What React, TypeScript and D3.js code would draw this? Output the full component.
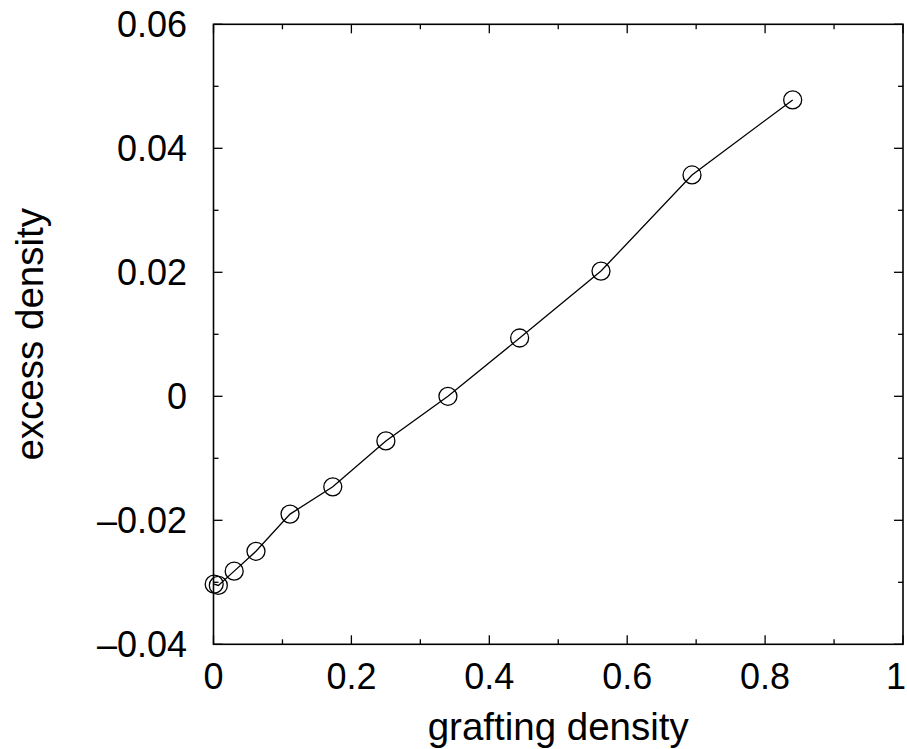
import React from "react";
import * as d3 from "d3";

const xValues = [0.001, 0.007, 0.03, 0.0616, 0.111, 0.173, 0.25, 0.34, 0.444, 0.562, 0.694, 0.84];
const yValues = [-0.0303, -0.0305, -0.0282, -0.025, -0.019, -0.0146, -0.0072, 0.0, 0.0094, 0.0202, 0.0357, 0.0478];
const xMajorTicks = [0, 0.2, 0.4, 0.6, 0.8, 1];
const xTickLabels = ["0", "0.2", "0.4", "0.6", "0.8", "1"];
const xMinorTicks = [0.1, 0.3, 0.5, 0.7, 0.9];
const yMajorTicks = [-0.04, -0.02, 0, 0.02, 0.04, 0.06];
const yTickLabels = ["\u20130.04", "\u20130.02", "0", "0.02", "0.04", "0.06"];
const yMinorTicks = [-0.03, -0.01, 0.01, 0.03, 0.05];
const xTitle = "grafting density";
const yTitle = "excess density";

const W = 907, H = 749;
const L = 213.5, R = 903, T = 24.3, B = 644.3;

export default function App() {
  const x = d3.scaleLinear().domain([0, 1]).range([L, R]);
  const y = d3.scaleLinear().domain([-0.04, 0.06]).range([B, T]);
  const pts = xValues.map((v, i) => [v, yValues[i]] as [number, number]);
  const line = d3.line<[number, number]>().x(d => x(d[0])).y(d => y(d[1]));
  const font = "'Liberation Sans', Arial, sans-serif";
  const major = 9, minor = 5;
  return (
    <svg width={W} height={H} style={{ position: "absolute", left: 0, top: 0, background: "#fff" }}>
      <rect x={L} y={T} width={R - L} height={B - T} fill="none" stroke="#000" strokeWidth={1.6} />
      {xMajorTicks.map((t, i) => (
        <g key={"xM" + i}>
          <line x1={x(t)} x2={x(t)} y1={B} y2={B - major} stroke="#000" strokeWidth={1.3} />
          <line x1={x(t)} x2={x(t)} y1={T} y2={T + major} stroke="#000" strokeWidth={1.3} />
          <text x={i === xMajorTicks.length - 1 ? W - 1 : x(t)} y={689} textAnchor={i === xMajorTicks.length - 1 ? "end" : "middle"} fontFamily={font} fontSize={36}>{xTickLabels[i]}</text>
        </g>
      ))}
      {xMinorTicks.map((t, i) => (
        <g key={"xm" + i}>
          <line x1={x(t)} x2={x(t)} y1={B} y2={B - minor} stroke="#000" strokeWidth={1.3} />
          <line x1={x(t)} x2={x(t)} y1={T} y2={T + minor} stroke="#000" strokeWidth={1.3} />
        </g>
      ))}
      {yMajorTicks.map((t, i) => (
        <g key={"yM" + i}>
          <line x1={L} x2={L + major} y1={y(t)} y2={y(t)} stroke="#000" strokeWidth={1.3} />
          <line x1={R} x2={R - major} y1={y(t)} y2={y(t)} stroke="#000" strokeWidth={1.3} />
          <text x={187} y={y(t)} dy="0.36em" textAnchor="end" fontFamily={font} fontSize={36}>{yTickLabels[i]}</text>
        </g>
      ))}
      {yMinorTicks.map((t, i) => (
        <g key={"ym" + i}>
          <line x1={L} x2={L + minor} y1={y(t)} y2={y(t)} stroke="#000" strokeWidth={1.3} />
          <line x1={R} x2={R - minor} y1={y(t)} y2={y(t)} stroke="#000" strokeWidth={1.3} />
        </g>
      ))}
      <path d={line(pts) || ""} fill="none" stroke="#000" strokeWidth={1.3} />
      {pts.map((p, i) => (
        <circle key={"c" + i} cx={x(p[0])} cy={y(p[1])} r={9} fill="none" stroke="#000" strokeWidth={1.3} />
      ))}
      <text x={x(0.5)} y={740} textAnchor="middle" fontFamily={font} fontSize={38.5}>{xTitle}</text>
      <text transform={`translate(43,${y(0.01)}) rotate(-90)`} textAnchor="middle" fontFamily={font} fontSize={38.5}>{yTitle}</text>
    </svg>
  );
}
